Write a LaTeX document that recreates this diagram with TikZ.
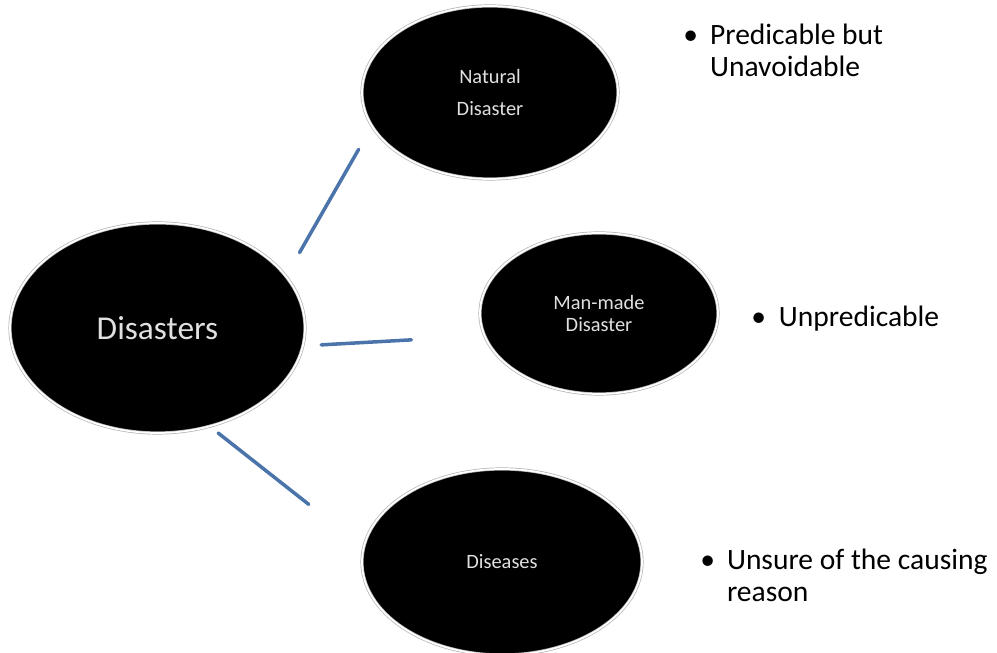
\documentclass[tikz,border=0pt]{standalone}
\usepackage{fontspec}
\setmainfont{Carlito}
\definecolor{linkblue}{RGB}{74,116,170}
\usetikzlibrary{shapes.geometric}
\tikzset{
  blob/.style={ellipse, fill=black, draw=gray!60, double=white, double distance=1pt,
    line width=0.4pt, text=white!88!black, align=center, inner sep=0pt},
  link/.style={draw=linkblue, line width=2pt, line cap=round},
  note/.style={anchor=base west, inner sep=0pt, font=\fontsize{16.8}{18.1}\selectfont}
}
\newcommand{\bul}{\makebox[15.2pt][l]{\textbullet}}

\begin{document}
\begin{tikzpicture}
  \useasboundingbox (0,0) rectangle (19.94,13.06);

  \node[blob, minimum width=5.9cm, minimum height=4.2cm,
    font=\fontsize{19}{22}\selectfont] (dis) at (3.15,6.50) {Disasters};
  \node[blob, minimum width=5.12cm, minimum height=3.46cm,
    font=\fontsize{11.6}{18.1}\selectfont] (nat) at (9.80,11.21) {Natural\\Disaster};
  \node[blob, minimum width=4.76cm, minimum height=3.22cm,
    font=\fontsize{11.6}{13}\selectfont] (man) at (11.98,6.79) {Man-made\\Disaster};
  \node[blob, minimum width=5.6cm, minimum height=3.72cm,
    font=\fontsize{11.6}{14}\selectfont] (dse) at (10.04,1.82) {Diseases};

  \draw[link, shorten <=0.54cm, shorten >=0.53cm] (dis.22.35) -- (nat.196.4);
  \draw[link, shorten <=0.36cm, shorten >=1.46cm] (dis.-7.06) -- (man.191.2);
  \draw[link, shorten <=0.21cm, shorten >=1.39cm] (dis.-62.2) -- (dse.174.9);

  % remarks on the right
  \node[note] (rnat) at (13.66,12.16)
    {\begin{tabular}[t]{@{}l@{}l@{}}\bul & Predicable but\\ & Unavoidable\end{tabular}};
  \node[note] (rman) at (15.02,6.52) {\makebox[15.7pt][l]{\textbullet}Unpredicable};
  \node[note] (rdse) at (14.00,1.66)
    {\begin{tabular}[t]{@{}l@{}l@{}}\bul & Unsure of the causing\\ & reason\end{tabular}};

\end{tikzpicture}
\end{document}
